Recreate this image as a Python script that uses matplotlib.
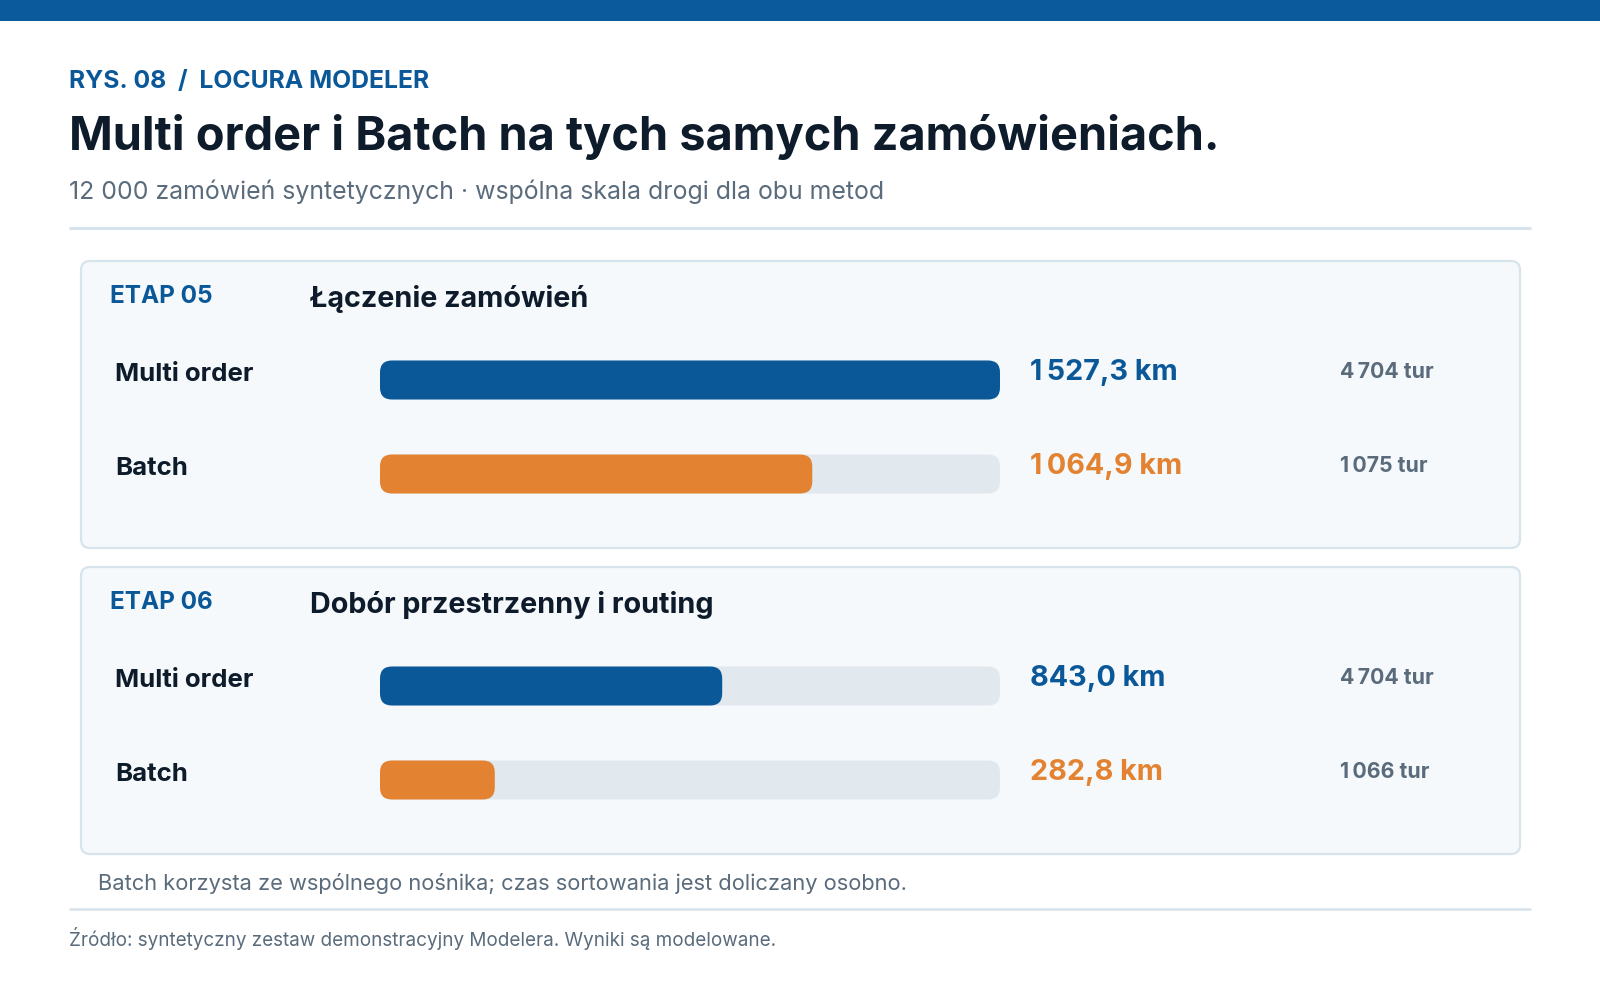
import matplotlib
matplotlib.use("Agg")
import matplotlib.pyplot as plt
from matplotlib.patches import FancyBboxPatch, Rectangle

plt.rcParams['font.family'] = ['Inter', 'DejaVu Sans']

# dane
stages = ['ETAP 05', 'ETAP 06']
stage_titles = ['Łączenie zamówień', 'Dobór przestrzenny i routing']
methods = ['Multi order', 'Batch']
distance_mo = [1527.3, 843.0]
distance_batch = [1064.9, 282.8]
tours_mo = [4704, 4704]
tours_batch = [1075, 1066]

BLUE = '#0B5899'
ORANGE = '#E38331'
TRACK = '#E1E9EF'
CARD_BG = '#F5F9FC'
CARD_EDGE = '#D8E4EC'
DARK = '#0D1B2A'
GRAY = '#5A6B7B'
NNBSP = '\u202f'


def fmt_km(v):
    s = f"{v:,.1f}".replace(",", NNBSP).replace(".", ",")
    return s + " km"


def fmt_tours(t):
    return f"{t:,}".replace(",", NNBSP) + " tur"


fig = plt.figure(figsize=(16, 10), dpi=100)
fig.patch.set_facecolor('white')
bg = fig.add_axes([0, 0, 1, 1])
bg.set_xlim(0, 1600)
bg.set_ylim(1000, 0)
bg.axis('off')

# górny pasek
bg.add_patch(Rectangle((0, 0), 1600, 21, color='#0B5A9B', lw=0))

bg.text(69, 88, "RYS. 08  /  LOCURA MODELER", fontsize=17.8, fontweight='bold',
        color=BLUE, va='baseline')
bg.text(69, 150, "Multi order i Batch na tych samych zamówieniach.", fontsize=33.8,
        fontweight='bold', color=DARK, va='baseline')
bg.text(69, 199, "12 000 zamówień syntetycznych · wspólna skala drogi dla obu metod",
        fontsize=17.9, color=GRAY, va='baseline')
bg.plot([69, 1531], [228, 228], color='#D6E2EC', lw=2.2, solid_capstyle='butt')

scale_max = max(distance_mo + distance_batch)
track_x0, track_w = 380, 620
bar_h_px = 39
radius_px = 12

for i in range(len(stages)):
    top = 261 + i * 306
    card = FancyBboxPatch((81, top), 1439, 287,
                          boxstyle="round,pad=0,rounding_size=9",
                          facecolor=CARD_BG, edgecolor=CARD_EDGE, lw=1.6)
    bg.add_patch(card)

    bg.text(110, top + 42, stages[i], fontsize=17.5, fontweight='bold',
            color=BLUE, va='baseline')
    bg.text(310, top + 46, stage_titles[i], fontsize=20.7, fontweight='bold',
            color=DARK, va='baseline')

    vals = [distance_mo[i], distance_batch[i]]
    tours = [tours_mo[i], tours_batch[i]]
    colors = [BLUE, ORANGE]

    # osie słupków
    row0 = top + 119
    pad = 47
    ax_top = row0 - pad
    ax_h = 94 * 2
    bax = fig.add_axes([track_x0 / 1600, 1 - (ax_top + ax_h) / 1000,
                        track_w / 1600, ax_h / 1000])
    bax.set_xlim(0, scale_max)
    bax.set_ylim(1.5, -0.5)
    bax.axis('off')
    px_x = track_w / scale_max
    px_y = 94.0
    bh = bar_h_px / px_y
    r = radius_px / px_x
    asp = px_x / px_y
    for j, v in enumerate(vals):
        bax.add_patch(FancyBboxPatch((0, j - bh / 2), scale_max, bh,
                                     boxstyle=f"round,pad=0,rounding_size={r}",
                                     mutation_aspect=asp, facecolor=TRACK, lw=0))
        bax.add_patch(FancyBboxPatch((0, j - bh / 2), v, bh,
                                     boxstyle=f"round,pad=0,rounding_size={r}",
                                     mutation_aspect=asp, facecolor=colors[j], lw=0))

        y = row0 + j * 94
        bg.text(115, y + 1, methods[j], fontsize=18.6, fontweight='bold',
                color=DARK, va='baseline')
        bg.text(1030, y, fmt_km(v), fontsize=20.7, fontweight='bold',
                color=colors[j], va='baseline')
        bg.text(1340, y - 2, fmt_tours(tours[j]), fontsize=15.3, fontweight='bold',
                color=GRAY, va='baseline')

bg.text(98, 890, "Batch korzysta ze wspólnego nośnika; czas sortowania jest doliczany osobno.",
        fontsize=15.75, color=GRAY, va='baseline')
bg.plot([69, 1531], [909, 909], color='#D6E2EC', lw=1.8, solid_capstyle='butt')
bg.text(69, 946, "Źródło: syntetyczny zestaw demonstracyjny Modelera. Wyniki są modelowane.",
        fontsize=13.6, color=GRAY, va='baseline')

fig.savefig("out.png", dpi=100, facecolor='white')
